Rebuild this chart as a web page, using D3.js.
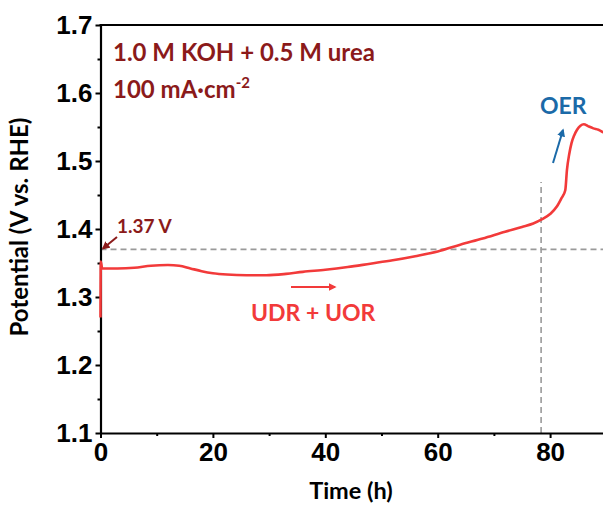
<!DOCTYPE html>
<html><head><meta charset="utf-8">
<script src="https://cdn.jsdelivr.net/npm/d3@7"></script>
<style>body{margin:0;background:#fff;overflow:hidden}</style>
</head><body><svg id="c" width="603" height="511"></svg>
<script>
const time = [0, 0.05, 0.3, 3, 6, 9, 12, 14, 16, 18, 20, 22.5, 26, 29.5, 33, 36, 40, 44, 48, 52, 56, 60, 64, 68, 72, 75, 77, 78.5, 80, 81.2, 82, 82.7, 83, 83.4, 83.8, 84.3, 84.8, 85.4, 86, 86.8, 87.7, 88.6, 89.5, 90];
const potential = [1.27, 1.352, 1.342, 1.342, 1.343, 1.346, 1.347, 1.346, 1.342, 1.338, 1.335, 1.333, 1.332, 1.332, 1.334, 1.337, 1.340, 1.344, 1.349, 1.354, 1.360, 1.367, 1.377, 1.386, 1.396, 1.403, 1.408, 1.414, 1.422, 1.433, 1.445, 1.457, 1.487, 1.510, 1.526, 1.538, 1.546, 1.552, 1.554, 1.551, 1.548, 1.546, 1.542, 1.540];
const xTicks = [0, 20, 40, 60, 80];
const xMinor = [10, 30, 50, 70, 90];
const yTicks = [1.1, 1.2, 1.3, 1.4, 1.5, 1.6, 1.7];
const yMinor = [1.15, 1.25, 1.35, 1.45, 1.55, 1.65];
const refPotential = 1.37;
const switchTime = 78.4;
const switchTop = 1.469;

const svg = d3.select("#c");
const x = d3.scaleLinear().domain([0, 90]).range([100.5, 606.3]);
const y = d3.scaleLinear().domain([1.1, 1.7]).range([433, 25]);
const tickFont = "'Liberation Sans Narrow','Arial Narrow','Liberation Sans',sans-serif";
const labFont = "Lato,'Open Sans',sans-serif";

// dashed reference lines
svg.append("line").attr("x1", x(0)).attr("x2", 603).attr("y1", y(refPotential)).attr("y2", y(refPotential))
  .attr("stroke", "#9a9a9a").attr("stroke-width", 1.6).attr("stroke-dasharray", "6,4");
svg.append("line").attr("x1", x(switchTime)).attr("x2", x(switchTime)).attr("y1", y(1.1)).attr("y2", y(switchTop))
  .attr("stroke", "#9a9a9a").attr("stroke-width", 1.6).attr("stroke-dasharray", "6,4");

// axes
const gx = svg.append("g").attr("transform", `translate(0,${y(1.1)})`)
  .call(d3.axisBottom(x).tickValues(xTicks).tickSize(5).tickSizeOuter(0).tickPadding(5).tickFormat(d3.format("d")));
const gxm = svg.append("g").attr("transform", `translate(0,${y(1.1)})`)
  .call(d3.axisBottom(x).tickValues(xMinor).tickSize(3).tickSizeOuter(0).tickFormat(""));
const gy = svg.append("g").attr("transform", `translate(${x(0)},0)`)
  .call(d3.axisLeft(y).tickValues(yTicks).tickSize(5).tickSizeOuter(0).tickPadding(3).tickFormat(d3.format(".1f")));
const gym = svg.append("g").attr("transform", `translate(${x(0)},0)`)
  .call(d3.axisLeft(y).tickValues(yMinor).tickSize(3).tickSizeOuter(0).tickFormat(""));
[gx, gxm, gy, gym].forEach(g => {
  g.selectAll("path").attr("stroke", "#000").attr("stroke-width", 2.2);
  g.selectAll("line").attr("stroke", "#000").attr("stroke-width", 2);
  g.selectAll("text").attr("fill", "#000").style("font-family", tickFont).style("font-weight", "bold").style("font-size", "26px");
});
gxm.select("path").remove(); gym.select("path").remove();
// top frame
svg.append("line").attr("x1", x(0) - 1).attr("x2", 603).attr("y1", y(1.7)).attr("y2", y(1.7)).attr("stroke", "#000").attr("stroke-width", 2.2);

// data line
const data = time.map((t, i) => [t, potential[i]]);
svg.append("path").datum(data)
  .attr("d", d3.line().x(d => x(d[0])).y(d => y(d[1])).curve(d3.curveMonotoneX))
  .attr("fill", "none").attr("stroke", "#f23a3a").attr("stroke-width", 2.6);

// axis titles
svg.append("text").attr("x", 351).attr("y", 499).attr("text-anchor", "middle")
  .style("font-family", labFont).style("font-weight", "bold").style("font-size", "23.5px").text("Time (h)");
svg.append("text").attr("transform", "translate(28,227) rotate(-90)").attr("text-anchor", "middle")
  .style("font-family", labFont).style("font-weight", "bold").style("font-size", "24px").text("Potential (V vs. RHE)");

// annotations
const defs = svg.append("defs");
function marker(id, color) {
  defs.append("marker").attr("id", id).attr("viewBox", "0 0 10 10").attr("refX", 8).attr("refY", 5)
    .attr("markerWidth", 4).attr("markerHeight", 4).attr("orient", "auto")
    .append("path").attr("d", "M0,0L10,5L0,10Z").attr("fill", color);
}
marker("aBlue", "#1b6aa8"); marker("aDark", "#8b1a1a"); marker("aRed", "#f23a3a");

svg.append("text").attr("x", 113).attr("y", 61).attr("fill", "#8b1a1a")
  .style("font-family", labFont).style("font-weight", "bold").style("font-size", "24px").text("1.0 M KOH + 0.5 M urea");
const t2 = svg.append("text").attr("x", 113).attr("y", 98).attr("fill", "#8b1a1a")
  .style("font-family", labFont).style("font-weight", "bold").style("font-size", "24px");
t2.append("tspan").text("100 mA·cm");
t2.append("tspan").attr("dy", -10).style("font-size", "15px").text("-2");

svg.append("text").attr("x", 117).attr("y", 233).attr("fill", "#8b1a1a")
  .style("font-family", labFont).style("font-weight", "bold").style("font-size", "19px").text("1.37 V");
svg.append("line").attr("x1", 117).attr("y1", 237).attr("x2", 103).attr("y2", 248.5)
  .attr("stroke", "#8b1a1a").attr("stroke-width", 2).attr("marker-end", "url(#aDark)");

svg.append("text").attr("x", 540).attr("y", 114).attr("fill", "#1b6aa8")
  .style("font-family", labFont).style("font-weight", "bold").style("font-size", "23px").text("OER");
svg.append("line").attr("x1", 553).attr("y1", 163).attr("x2", 563).attr("y2", 130)
  .attr("stroke", "#1b6aa8").attr("stroke-width", 2).attr("marker-end", "url(#aBlue)");

svg.append("text").attr("x", 251).attr("y", 321).attr("fill", "#f23a3a")
  .style("font-family", labFont).style("font-weight", "bold").style("font-size", "23px").text("UDR + UOR");
svg.append("line").attr("x1", 291).attr("y1", 287).attr("x2", 335).attr("y2", 287)
  .attr("stroke", "#f23a3a").attr("stroke-width", 2).attr("marker-end", "url(#aRed)");
</script></body></html>
